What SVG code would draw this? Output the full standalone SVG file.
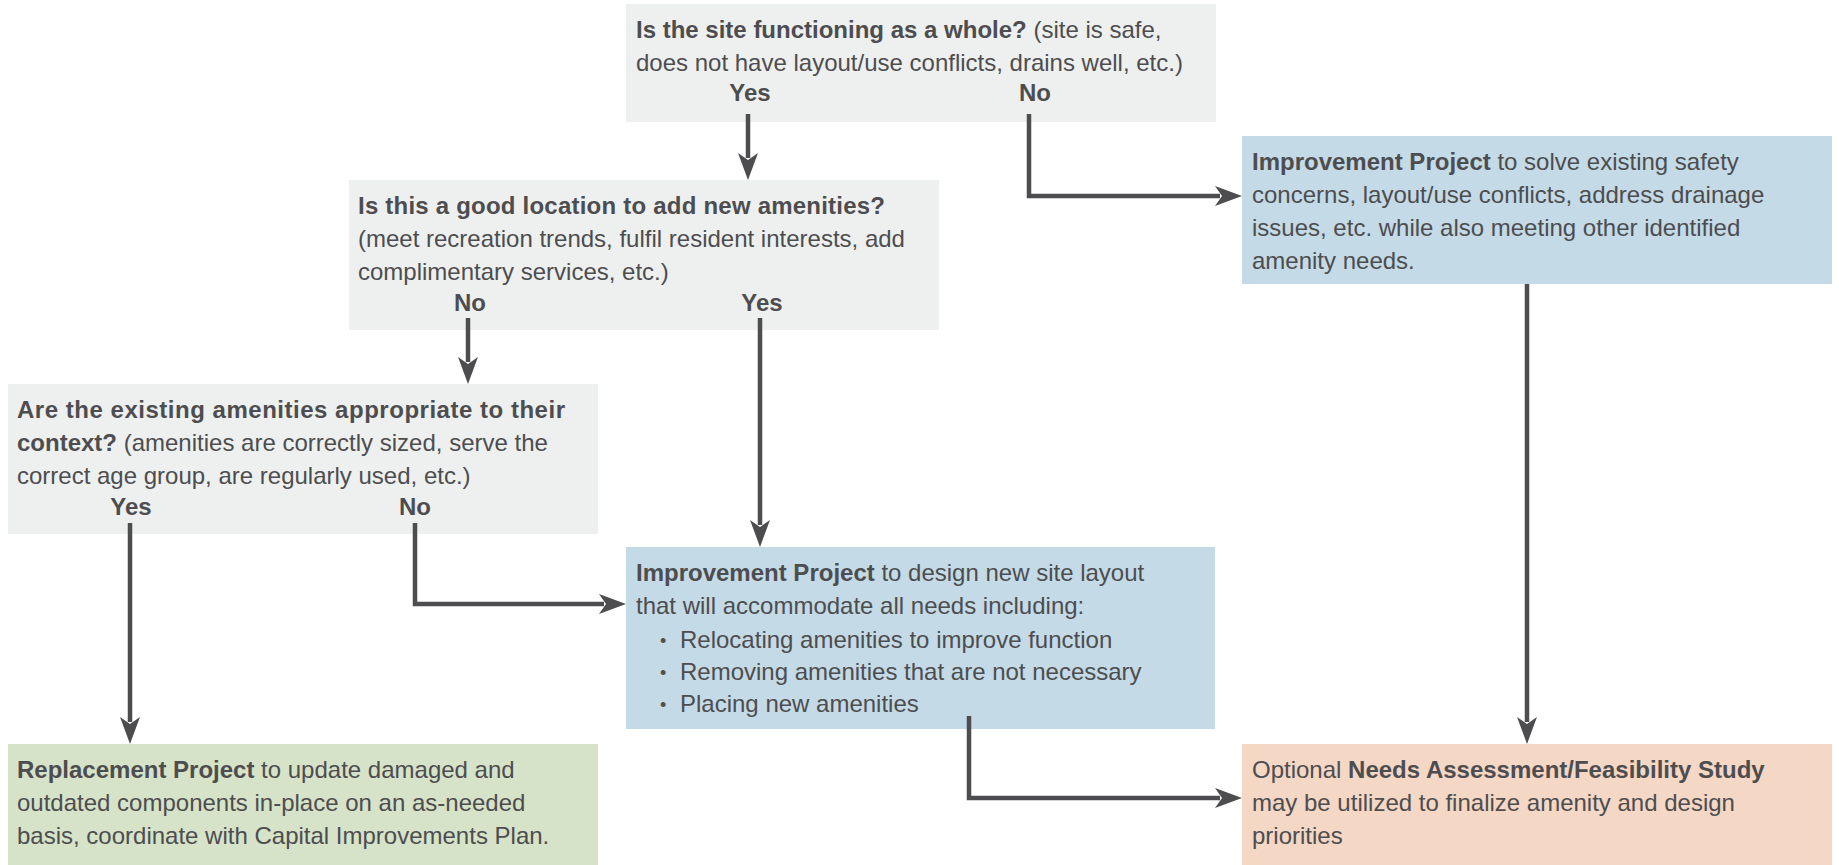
<svg xmlns="http://www.w3.org/2000/svg" width="1839" height="865" viewBox="0 0 1839 865">
<style>
  .grey { fill: #eef0ef; }
  .blue { fill: #c4dae6; }
  .green { fill: #d6e3c9; }
  .peach { fill: #f5d7c5; }
  text { font-family: "Liberation Sans", Arial, sans-serif; font-size: 24px; fill: #4d4d4f; }
  .b { font-weight: bold; }
  .lbl { font-weight: bold; text-anchor: middle; }
  .bul { font-size: 18px; }
  .conn { fill: none; stroke: #4d4d4f; stroke-width: 4.5; stroke-linejoin: miter; marker-end: url(#arrow); }
</style>
<defs>
  <marker id="arrow" markerUnits="userSpaceOnUse" viewBox="-6 -11 29 22" refX="0" refY="0" markerWidth="29" markerHeight="22" orient="auto">
    <path d="M22,0 L-5,-10 L2,0 L-5,10 Z" fill="#4d4d4f"/>
  </marker>
</defs>
<rect width="1839" height="865" fill="#ffffff"/>

<g id="node-site-functioning">
  <rect class="grey" x="626" y="4" width="590" height="118"/>
  <text x="636" y="38"><tspan class="b">Is the site functioning as a whole?</tspan> (site is safe,</text>
  <text x="636" y="71">does not have layout/use conflicts, drains well, etc.)</text>
  <text class="lbl" x="750" y="101">Yes</text>
  <text class="lbl" x="1035" y="101">No</text>
</g>

<g id="node-good-location">
  <rect class="grey" x="349" y="180" width="590" height="150"/>
  <text class="b" x="358" y="214" textLength="527" lengthAdjust="spacing">Is this a good location to add new amenities?</text>
  <text x="358" y="247">(meet recreation trends, fulfil resident interests, add</text>
  <text x="358" y="280">complimentary services, etc.)</text>
  <text class="lbl" x="470" y="311">No</text>
  <text class="lbl" x="762" y="311">Yes</text>
</g>

<g id="node-existing-amenities">
  <rect class="grey" x="8" y="384" width="590" height="150"/>
  <text class="b" x="17" y="418" textLength="548" lengthAdjust="spacing">Are the existing amenities appropriate to their</text>
  <text x="17" y="451"><tspan class="b">context?</tspan> (amenities are correctly sized, serve the</text>
  <text x="17" y="484">correct age group, are regularly used, etc.)</text>
  <text class="lbl" x="131" y="515">Yes</text>
  <text class="lbl" x="415" y="515">No</text>
</g>

<g id="node-improvement-safety">
  <rect class="blue" x="1242" y="136" width="590" height="148"/>
  <text x="1252" y="170"><tspan class="b">Improvement Project</tspan> to solve existing safety</text>
  <text x="1252" y="203">concerns, layout/use conflicts, address drainage</text>
  <text x="1252" y="236">issues, etc. while also meeting other identified</text>
  <text x="1252" y="269">amenity needs.</text>
</g>

<g id="node-improvement-layout">
  <rect class="blue" x="626" y="547" width="589" height="182"/>
  <text x="636" y="581"><tspan class="b">Improvement Project</tspan> to design new site layout</text>
  <text x="636" y="614">that will accommodate all needs including:</text>
  <text class="bul" x="660" y="647">•</text>
  <text x="680" y="648">Relocating amenities to improve function</text>
  <text class="bul" x="660" y="679">•</text>
  <text x="680" y="680">Removing amenities that are not necessary</text>
  <text class="bul" x="660" y="711">•</text>
  <text x="680" y="712">Placing new amenities</text>
</g>

<g id="node-replacement">
  <rect class="green" x="8" y="744" width="590" height="121"/>
  <text x="17" y="778"><tspan class="b">Replacement Project</tspan> to update damaged and</text>
  <text x="17" y="811">outdated components in-place on an as-needed</text>
  <text x="17" y="844">basis, coordinate with Capital Improvements Plan.</text>
</g>

<g id="node-needs-assessment">
  <rect class="peach" x="1242" y="744" width="590" height="121"/>
  <text x="1252" y="778">Optional <tspan class="b">Needs Assessment/Feasibility Study</tspan></text>
  <text x="1252" y="811">may be utilized to finalize amenity and design</text>
  <text x="1252" y="844">priorities</text>
</g>

<g id="connectors">
  <path class="conn" d="M748,114 V158"/>
  <path class="conn" d="M1029,114 V196 H1220"/>
  <path class="conn" d="M468,318 V362"/>
  <path class="conn" d="M760,318 V525"/>
  <path class="conn" d="M130,523 V722"/>
  <path class="conn" d="M415,523 V604 H604"/>
  <path class="conn" d="M1527,284 V722"/>
  <path class="conn" d="M969,716 V798 H1220"/>
</g>
</svg>
